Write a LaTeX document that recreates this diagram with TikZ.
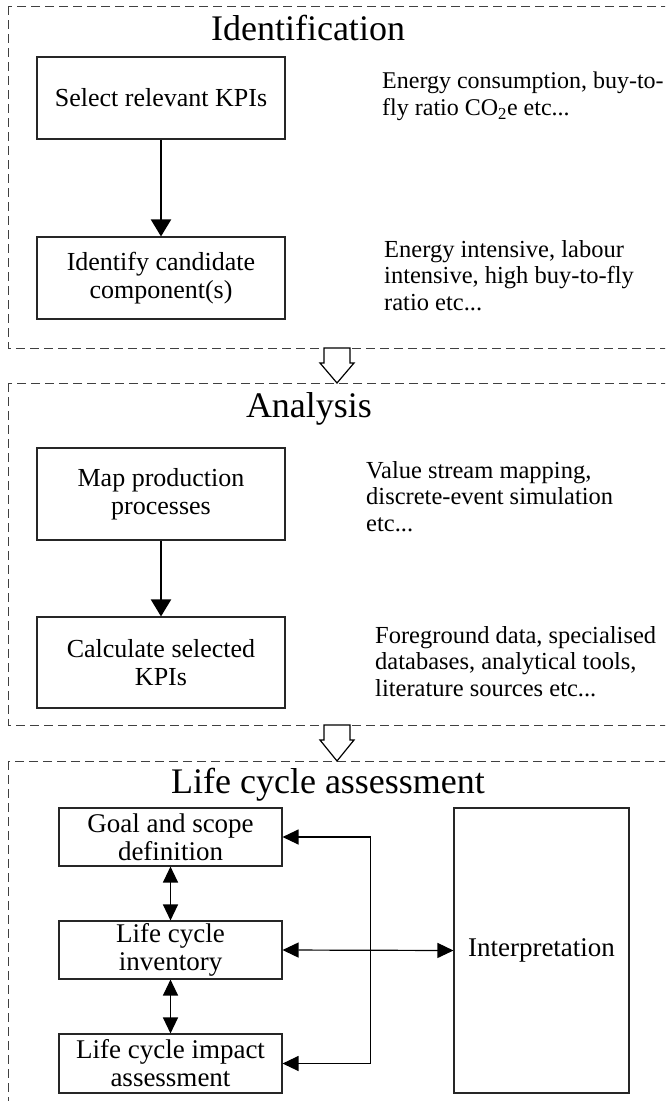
\documentclass[tikz,border=0pt]{standalone}
\usepackage{fontspec}
\setmainfont{Liberation Serif}
\usetikzlibrary{arrows.meta}

\begin{document}
\begin{tikzpicture}[
    x=1pt,y=-1pt,
    stagefrm/.style={draw=black!75,line width=0.9pt,dash pattern=on 9pt off 5pt},
    stagetitle/.style={anchor=base,inner sep=0pt,font=\fontsize{36}{40}\selectfont},
    stepbox/.style={draw=black!85,line width=1.1pt,align=center,inner sep=0pt,
        font=\fontsize{26}{28.5}\selectfont},
    lcabox/.style={draw=black!85,line width=1.1pt,align=center,inner sep=0pt,
        font=\fontsize{27}{28}\selectfont},
    sidetext/.style={anchor=north west,align=left,inner sep=0pt,
        font=\fontsize{24.5}{26.5}\selectfont},
    flowarr/.style={line width=2pt,-{Triangle[width=20pt,length=17pt]}},
    lcaarr/.style={line width=1.2pt,{Triangle[width=15pt,length=16pt]}-{Triangle[width=15pt,length=16pt]}},
    hollowarr/.style={draw=black,line width=1.2pt,fill=white}
]
    \useasboundingbox (0,0) rectangle (665,1101);
    \clip (0,0) rectangle (665,1101);

    % stage frames
    \draw[stagefrm] (8,6) rectangle (690,348);
    \draw[stagefrm] (8,383) rectangle (690,725);
    \draw[stagefrm] (8,761) rectangle (690,1130);

    % identification
    \node[stagetitle] (identtitle) at (308,40) {Identification};
    \node[stepbox,minimum width=248pt,minimum height=82pt] (kpi) at (161,98)
        {Select relevant KPIs};
    \node[stepbox,minimum width=248pt,minimum height=82pt] (cand) at (161,278)
        {Identify candidate\\component(s)};
    \node[sidetext,font=\fontsize{24}{27}\selectfont] (kpinote) at (382,72)
        {Energy consumption, buy-to-\\fly ratio CO\textsubscript{2}e etc...};
    \node[sidetext] (candnote) at (384,240)
        {Energy intensive, labour\\intensive, high buy-to-fly\\ratio etc...};
    \draw[flowarr] (kpi) -- (cand);

    \draw[hollowarr] (324,348) -- (324,363) -- (320,363) -- (337,383)
        -- (354,363) -- (350,363) -- (350,348) -- cycle;

    % analysis
    \node[stagetitle] (analtitle) at (309,417) {Analysis};
    \node[stepbox,minimum width=248pt,minimum height=92pt] (mapproc) at (161,494)
        {Map production\\processes};
    \node[stepbox,minimum width=248pt,minimum height=91pt] (calc) at (161,662.5)
        {Calculate selected\\KPIs};
    \node[sidetext] (mapnote) at (366,461)
        {Value stream mapping,\\discrete-event simulation\\etc...};
    \node[sidetext] (calcnote) at (375,626)
        {Foreground data, specialised\\databases, analytical tools,\\literature sources etc...};
    \draw[flowarr] (mapproc) -- (calc);

    \draw[hollowarr] (324,725) -- (324,740) -- (320,740) -- (337,761)
        -- (354,740) -- (350,740) -- (350,725) -- cycle;

    % life cycle assessment
    \node[stagetitle] (lcatitle) at (328,793) {Life cycle assessment};
    \node[lcabox,minimum width=223pt,minimum height=58pt] (goal) at (170.5,837)
        {Goal and scope\\definition};
    \node[lcabox,minimum width=223pt,minimum height=58pt] (lci) at (170.5,950)
        {Life cycle\\inventory};
    \node[lcabox,minimum width=223pt,minimum height=59pt] (lcia) at (170.5,1063.5)
        {Life cycle impact\\assessment};
    \node[lcabox,minimum width=175pt,minimum height=285pt] (interp) at (541.5,950.5)
        {Interpretation};
    \draw[lcaarr] (goal) -- (lci);
    \draw[lcaarr] (lci) -- (lcia);
    \draw[lcaarr] (goal.east) -- ++(88,0) |- (lcia.east);
    \draw[lcaarr] (lci.east) -- (interp.west);
\end{tikzpicture}
\end{document}
